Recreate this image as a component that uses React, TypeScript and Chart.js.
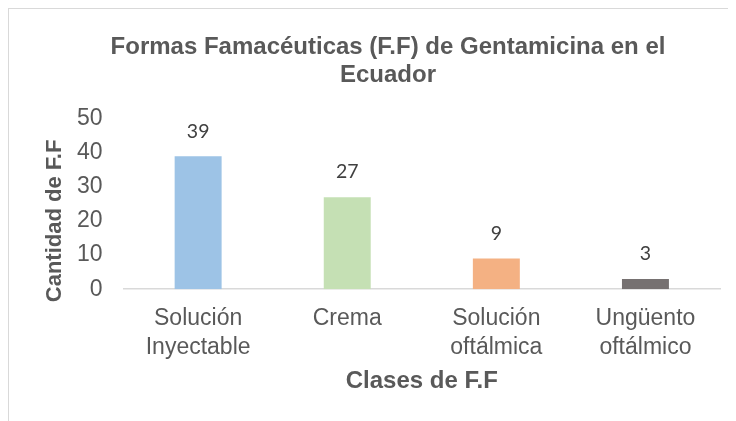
import React, { useEffect, useRef } from "react";
import { Chart, registerables } from "chart.js";

Chart.register(...registerables);

const categories: string[][] = [
  ["Solución", "Inyectable"],
  ["Crema"],
  ["Solución", "oftálmica"],
  ["Ungüento", "oftálmico"],
];
const values: number[] = [39, 27, 9, 3];
const barColors: string[] = ["#9DC3E6", "#C5E0B4", "#F4B183", "#767171"];
const titleLines: string[] = ["Formas Famacéuticas (F.F) de Gentamicina en el", "Ecuador"];
const yTitle = "Cantidad de F.F";
const xTitle = "Clases de F.F";
const yMin = 0;
const yMax = 50;
const yStep = 10;

const FONT = "'Liberation Sans', Arial, sans-serif";

const dataLabelPlugin = {
  id: "dataLabels",
  afterDatasetsDraw(chart: any) {
    const ctx = chart.ctx;
    const meta = chart.getDatasetMeta(0);
    ctx.save();
    ctx.font = "19.5px Lato, 'Open Sans', sans-serif";
    ctx.fillStyle = "#404040";
    ctx.textAlign = "center";
    ctx.textBaseline = "middle";
    meta.data.forEach((bar: any, i: number) => {
      ctx.fillText(String(values[i]), bar.x, bar.y - 25);
    });
    ctx.restore();
  },
};

const yTitlePlugin = {
  id: "yTitle",
  afterDraw(chart: any) {
    const ctx = chart.ctx;
    const area = chart.chartArea;
    ctx.save();
    ctx.font = `bold 22px ${FONT}`;
    ctx.fillStyle = "#595959";
    ctx.textAlign = "left";
    ctx.textBaseline = "middle";
    ctx.translate(area.left - 69, area.bottom + 13);
    ctx.rotate(-Math.PI / 2);
    ctx.fillText(yTitle, 0, 0);
    ctx.restore();
  },
};

export default function App() {
  const ref = useRef<HTMLCanvasElement>(null);
  useEffect(() => {
    if (!ref.current) return;
    const chart = new Chart(ref.current, {
      type: "bar",
      data: {
        labels: categories,
        datasets: [
          {
            data: values,
            backgroundColor: barColors,
            borderWidth: 0,
            categoryPercentage: 1,
            barPercentage: 0.315,
          },
        ],
      },
      options: {
        animation: false,
        responsive: false,
        maintainAspectRatio: false,
        layout: { padding: { left: 47, right: 16, top: 0, bottom: 25 } },
        plugins: {
          legend: { display: false },
          tooltip: { enabled: false },
          title: {
            display: true,
            text: titleLines,
            color: "#595959",
            font: { family: FONT, size: 24, weight: "bold", lineHeight: 1.14 },
            padding: { top: 25, bottom: 30 },
          },
        },
        scales: {
          x: {
            grid: { display: false, drawTicks: false },
            border: { display: true, color: "#D9D9D9", width: 1.5 },
            ticks: {
              color: "#595959",
              font: { family: FONT, size: 23, lineHeight: 1.26 },
              padding: 15,
              maxRotation: 0,
              autoSkip: false,
            },
            title: {
              display: true,
              text: xTitle,
              color: "#595959",
              font: { family: FONT, size: 24, weight: "bold", lineHeight: 1.2 },
              padding: { top: -10, bottom: 0 },
            },
          },
          y: {
            min: yMin,
            max: yMax,
            grid: { display: false, drawTicks: false },
            border: { display: false },
            ticks: {
              stepSize: yStep,
              color: "#595959",
              font: { family: FONT, size: 23 },
              padding: 21,
            },
          },
        },
      },
      plugins: [dataLabelPlugin, yTitlePlugin],
    });
    return () => chart.destroy();
  }, []);

  return (
    <div
      style={{
        width: 728,
        height: 413,
        borderLeft: "1px solid #D9D9D9",
        borderTop: "1px solid #D9D9D9",
        boxSizing: "border-box",
        overflow: "hidden",
      }}
    >
      <canvas ref={ref} width={727} height={412} style={{ display: "block" }} />
    </div>
  );
}
